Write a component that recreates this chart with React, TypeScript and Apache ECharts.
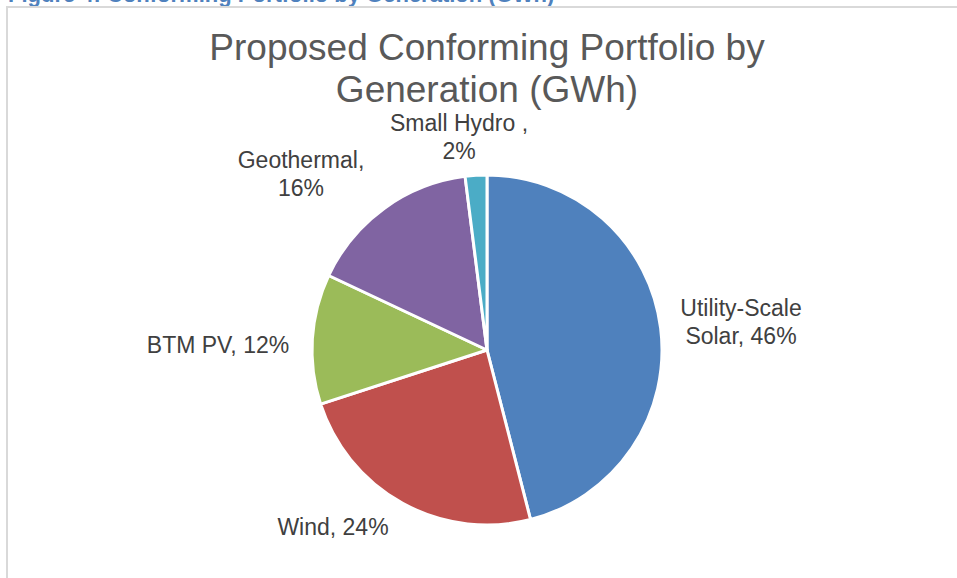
import React, { useEffect, useRef } from "react";
import * as echarts from "echarts";

const CATEGORIES = ["Utility-Scale\nSolar", "Wind", "BTM PV", "Geothermal", "Small Hydro "];
const SEPARATORS = [", ", ", ", ", ", ",\n", ",\n"];
const VALUES = [46, 24, 12, 16, 2];
const COLORS = ["#4F81BD", "#C0504D", "#9BBB59", "#8064A2", "#4BACC6"];
const LABEL_POS: [number, number][] = [
  [741, 322],
  [333, 527],
  [218, 345],
  [301, 174],
  [459, 137],
];

const FONT = "'Liberation Sans', Arial, Helvetica, sans-serif";

export default function App() {
  const ref = useRef<HTMLDivElement>(null);
  useEffect(() => {
    if (!ref.current) return;
    const chart = echarts.init(ref.current, null, { renderer: "svg" });
    chart.setOption({
      animation: false,
      backgroundColor: "#ffffff",
      graphic: [
        {
          type: "text",
          x: 8,
          y: 5,
          style: {
            text: "Figure 4: Conforming Portfolio by Generation (GWh)",
            fill: "#4F81BD",
            font: `bold 22px ${FONT}`,
            textAlign: "left",
            textVerticalAlign: "bottom",
          },
        },
        {
          type: "line",
          shape: { x1: 6, y1: 7, x2: 957, y2: 7 },
          style: { stroke: "#d9d9d9", lineWidth: 2 },
        },
        {
          type: "line",
          shape: { x1: 7, y1: 6, x2: 7, y2: 578 },
          style: { stroke: "#d9d9d9", lineWidth: 2 },
        },
        {
          type: "text",
          x: 487,
          y: 26,
          style: {
            text: "Proposed Conforming Portfolio by\nGeneration (GWh)",
            fill: "#595959",
            fontSize: 37,
            fontFamily: FONT,
            lineHeight: 42,
            textAlign: "center",
            textVerticalAlign: "top",
          },
        },
      ],
      series: [
        {
          type: "pie",
          center: [487, 350],
          radius: [0, 175],
          startAngle: 90,
          clockwise: true,
          avoidLabelOverlap: false,
          itemStyle: { borderColor: "#ffffff", borderWidth: 3 },
          label: {
            show: true,
            position: "outside",
            color: "#404040",
            fontSize: 23,
            lineHeight: 28,
            fontFamily: FONT,
            align: "center",
            formatter: (p: any) =>
              `${p.name}${SEPARATORS[p.dataIndex]}${Math.round(p.percent)}%`,
          },
          labelLine: { show: false },
          labelLayout: (p: any) => ({
            x: LABEL_POS[p.dataIndex][0],
            y: LABEL_POS[p.dataIndex][1],
            align: "center",
            verticalAlign: "middle",
          }),
          emphasis: { disabled: true },
          data: CATEGORIES.map((name, i) => ({
            name,
            value: VALUES[i],
            itemStyle: { color: COLORS[i] },
          })),
        },
      ],
    });
    return () => chart.dispose();
  }, []);
  return (
    <div
      ref={ref}
      style={{ position: "fixed", left: 0, top: 0, width: 957, height: 578 }}
    />
  );
}
